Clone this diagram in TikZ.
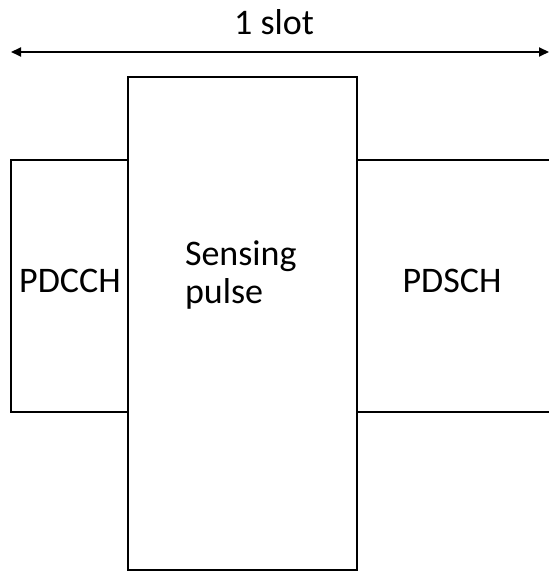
\documentclass[tikz,border=0pt]{standalone}
\usepackage{fontspec}
\setmainfont{Carlito}
\usetikzlibrary{arrows.meta}
\begin{document}
\begin{tikzpicture}[x=0.5pt,y=-0.5pt,line width=1pt,
    font=\fontsize{18}{19}\selectfont]
  \useasboundingbox (0,0) rectangle (549,572);
  \draw (11,160) rectangle (128,412);
  \draw (357,160) rectangle (553,412);
  \draw[fill=white] (128,77) rectangle (357,570);
  \node[anchor=base] (pdcch) at (70,292) {PDCCH};
  \node[anchor=base] (pdsch) at (452,292) {PDSCH};
  \node[anchor=base west,align=left,inner sep=0pt] (sensing) at (184,303)
    {Sensing\\pulse};
  \coordinate (slotL) at (11,52);
  \coordinate (slotR) at (549,52);
  \draw[{Triangle[length=5pt,width=4.5pt]}-{Triangle[length=5pt,width=4.5pt]}]
    (slotL) -- (slotR);
  \node[anchor=base] (slot) at (274,35) {1 slot};
\end{tikzpicture}
\end{document}
